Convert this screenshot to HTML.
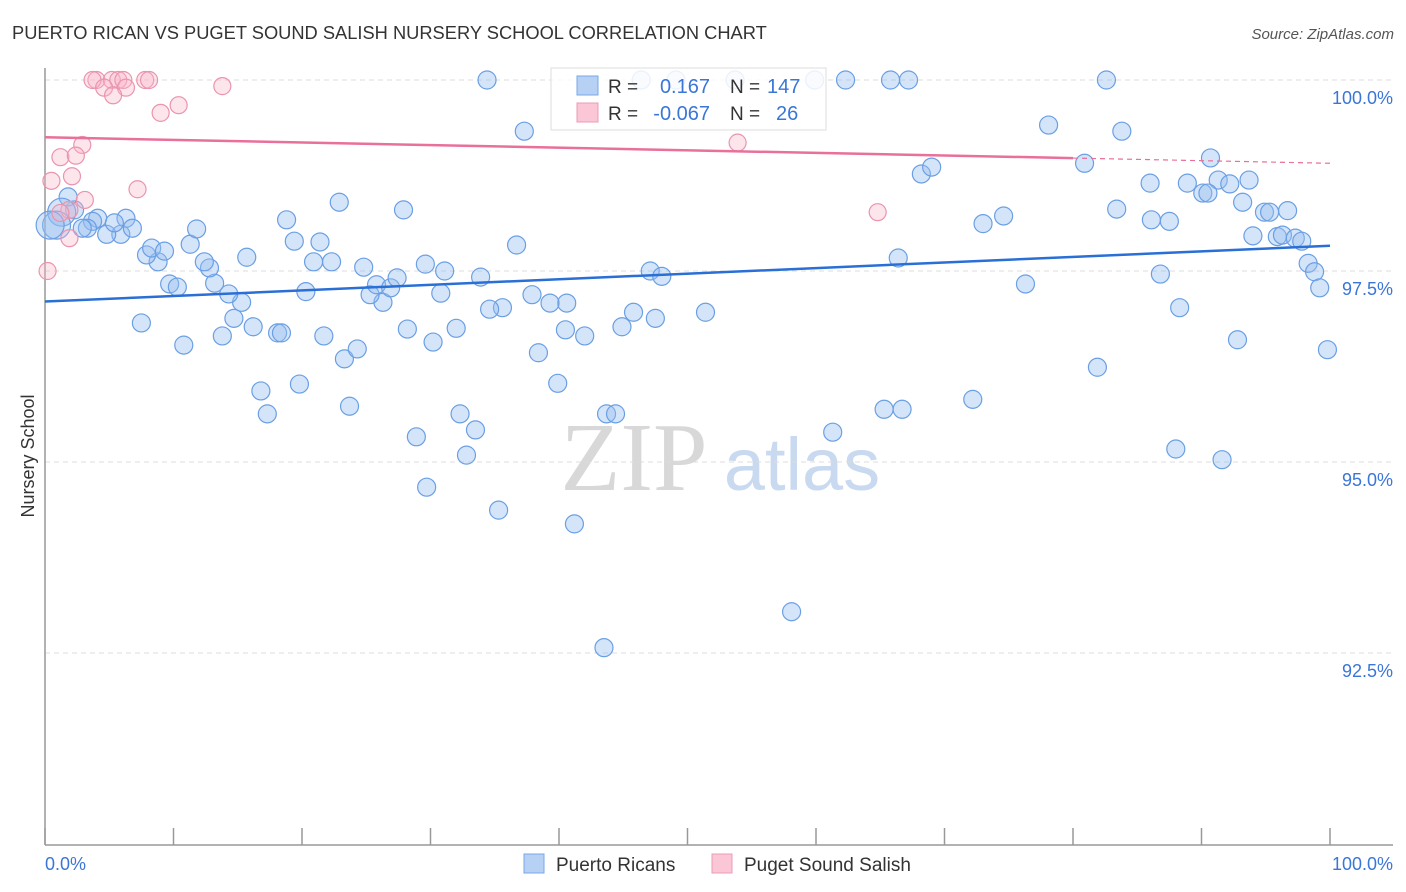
<!DOCTYPE html>
<html><head><meta charset="utf-8"><style>
body{margin:0;background:#fff;font-family:"Liberation Sans",sans-serif}
svg{display:block}
</style></head><body>
<svg id="chart" width="1406" height="892" viewBox="0 0 1406 892">
<text x="12" y="39" font-size="18.3" fill="#333">PUERTO RICAN VS PUGET SOUND SALISH NURSERY SCHOOL CORRELATION CHART</text>
<text x="1394" y="39" font-size="15" fill="#555" font-style="italic" text-anchor="end">Source: ZipAtlas.com</text>
<text x="0" y="0" transform="translate(34,456) rotate(-90)" font-size="18" fill="#333" text-anchor="middle">Nursery School</text>
<g>
<text x="634" y="490" font-family="Liberation Serif,serif" font-size="98" fill="#d8d8d8" text-anchor="middle">ZIP</text>
<text x="802" y="490" font-size="74" fill="#c8d9f0" text-anchor="middle">atlas</text>
</g>
<g id="grid"></g>
<g id="axes"></g>
<g id="pts"></g>
<g id="trends"></g>
<g>
<rect x="551" y="68" width="275" height="62" fill="#fff" fill-opacity="0.85" stroke="#ddd"/>
<rect x="577" y="76" width="21" height="19" fill="#b7d1f4" stroke="#7aa8e8"/>
<rect x="577" y="103" width="21" height="19" fill="#fbc6d5" stroke="#ec9bb4"/>
<text x="608" y="93" font-size="19" fill="#333">R = </text><text x="710" y="93" font-size="20" fill="#3a76d8" text-anchor="end">0.167</text>
<text x="730" y="93" font-size="19" fill="#333">N = </text><text x="767" y="93" font-size="20" fill="#3a76d8">147</text>
<text x="608" y="120" font-size="19" fill="#333">R = </text><text x="710" y="120" font-size="20" fill="#3a76d8" text-anchor="end">-0.067</text>
<text x="730" y="120" font-size="19" fill="#333">N = </text><text x="776" y="120" font-size="20" fill="#3a76d8">26</text>
</g>
<g>
<rect x="524" y="854" width="20" height="19" fill="#b7d1f4" stroke="#7aa8e8"/>
<text x="556" y="871" font-size="19" fill="#333">Puerto Ricans</text>
<rect x="712" y="854" width="20" height="19" fill="#fbc6d5" stroke="#ec9bb4"/>
<text x="744" y="871" font-size="19" fill="#333">Puget Sound Salish</text>
</g>
</svg>
<script>
const yTicks=[100,97.5,95,92.5];
const yTickLabels=["100.0%","97.5%","95.0%","92.5%"];
const xTickLabels=["0.0%","100.0%"];
const blueX=[34.4,37.3,46.4,49.1,53.7,59.9,62.3,65.8,67.2,82.6,78.1,83.8,80.9,90.7,68.2,69.0,86.0,88.9,91.3,93.7,90.1,90.5,92.2,93.2,94.9,95.3,96.7,83.4,86.1,87.5,74.6,73.0,94.0,95.9,96.3,97.3,97.8,98.3,98.8,99.2,99.8,66.4,86.8,76.3,88.3,92.8,81.9,72.2,65.3,66.7,88.0,91.6,61.3,58.1,43.5,41.2,35.3,29.7,32.8,33.5,32.3,28.9,23.7,17.3,16.8,19.8,23.3,24.3,39.9,38.4,43.7,44.4,42.0,40.5,44.9,45.8,47.5,51.4,47.1,48.0,40.6,39.3,37.9,35.6,34.6,32.0,30.2,28.2,26.3,25.3,25.8,26.9,27.4,30.8,31.1,29.6,33.9,24.8,22.3,20.9,20.3,21.7,18.1,18.4,16.2,15.3,14.7,14.3,13.8,13.2,12.8,12.4,10.8,7.5,9.7,10.3,8.8,7.9,8.3,9.3,11.3,11.8,15.7,19.4,21.4,18.8,22.9,27.9,36.7,6.3,5.9,4.8,4.1,3.7,3.3,2.9,2.3,1.8,1.3,0.9,0.4,6.8,5.4];
const blueY=[100,99.33,100,100,100,100,100,100,100,100,99.41,99.33,98.91,98.98,98.77,98.86,98.65,98.65,98.69,98.69,98.52,98.52,98.64,98.40,98.27,98.27,98.29,98.31,98.17,98.15,98.22,98.12,97.96,97.95,97.97,97.93,97.89,97.60,97.49,97.28,96.47,97.67,97.46,97.33,97.02,96.60,96.24,95.82,95.69,95.69,95.17,95.03,95.39,93.04,92.57,94.19,94.37,94.67,95.09,95.42,95.63,95.33,95.73,95.63,95.93,96.02,96.35,96.48,96.03,96.43,95.63,95.63,96.65,96.73,96.77,96.96,96.88,96.96,97.50,97.43,97.08,97.08,97.19,97.02,97.00,96.75,96.57,96.74,97.09,97.19,97.32,97.28,97.41,97.21,97.50,97.59,97.42,97.55,97.62,97.62,97.23,96.65,96.69,96.69,96.77,97.09,96.88,97.20,96.65,97.34,97.54,97.62,96.53,96.82,97.33,97.29,97.62,97.71,97.80,97.76,97.85,98.05,97.68,97.89,97.88,98.17,98.40,98.30,97.84,98.19,97.98,97.98,98.19,98.15,98.06,98.06,98.30,98.47,98.27,98.10,98.10,98.06,98.13];
const pinkX=[4.0,3.7,5.2,5.7,6.1,7.8,8.1,4.6,6.3,5.3,13.8,10.4,9.0,2.9,1.2,2.4,2.1,0.5,7.2,3.1,1.9,1.2,1.9,0.2,53.9,64.8];
const pinkY=[100,100,100,100,100,100,100,99.90,99.90,99.80,99.92,99.67,99.57,99.15,98.99,99.01,98.74,98.68,98.57,98.43,98.30,98.26,97.93,97.50,99.18,98.27];
const blueTrend=[97.1,97.83];
const pinkTrend=[99.25,98.91];
const pinkSolidEnd=80;

const NS="http://www.w3.org/2000/svg";
const X0=45,X1=1330,YT=80,YB=844;
function sx(v){return X0+(X1-X0)*v/100;}
function sy(v){return YT+(100-v)*(YB-YT)/10;}
function mk(tag,attrs,parent){const e=document.createElementNS(NS,tag);for(const k in attrs)e.setAttribute(k,attrs[k]);parent.appendChild(e);return e;}
const grid=document.getElementById('grid'),axes=document.getElementById('axes'),pts=document.getElementById('pts'),tr=document.getElementById('trends');
yTicks.forEach((t,i)=>{
  const l=mk('line',{x1:X0,x2:1393,y1:sy(t),y2:sy(t),stroke:'#ddd','stroke-dasharray':'5,4'},grid);
  
  
  const tx=mk('text',{x:1393,y:sy(t)+24,'font-size':18,fill:'#3a76d8','text-anchor':'end'},grid);
  tx.textContent=yTickLabels[i];
  
  
});
const ya=mk('line',{x1:X0,x2:X0,y1:68,y2:845,stroke:'#999','stroke-width':1.5},axes);


const xa=mk('line',{x1:X0,x2:1393,y1:845,y2:845,stroke:'#999','stroke-width':1.5},axes);


for(let i=0;i<=10;i++){
  const t=mk('line',{x1:sx(i*10),x2:sx(i*10),y1:828,y2:845,stroke:'#999','stroke-width':1.5},axes);
  
  
}
[[0,'start',X0],[1,'end',1393]].forEach(([i,a,x])=>{
  const t=mk('text',{x:x,y:870,'font-size':18,fill:'#3a76d8','text-anchor':a},axes);
  t.textContent=xTickLabels[i];
  
  
});
blueX.forEach((x,i)=>{
  const r=(i>=blueX.length-5&&x<1.5)?14:9;
  const c=mk('circle',{cx:sx(x),cy:sy(blueY[i]),r:r,fill:'rgba(150,190,240,0.4)',stroke:'#6a9fe4','stroke-width':1.2},pts);
  
  
});
pinkX.forEach((x,i)=>{
  const c=mk('circle',{cx:sx(x),cy:sy(pinkY[i]),r:8.5,fill:'rgba(248,180,200,0.35)',stroke:'#ea94ae','stroke-width':1.2},pts);
  
  
});
const bl=mk('line',{x1:sx(0),y1:sy(blueTrend[0]),x2:sx(100),y2:sy(blueTrend[1]),stroke:'#2a6fd6','stroke-width':2.5},tr);


const pm=pinkTrend[0]+(pinkTrend[1]-pinkTrend[0])*pinkSolidEnd/100;
const pl=mk('line',{x1:sx(0),y1:sy(pinkTrend[0]),x2:sx(pinkSolidEnd),y2:sy(pm),stroke:'#e8709a','stroke-width':2.5},tr);


const pd=mk('line',{x1:sx(pinkSolidEnd),y1:sy(pm),x2:sx(100),y2:sy(pinkTrend[1]),stroke:'#e8709a','stroke-width':1.2,'stroke-dasharray':'5,4'},tr);


</script>
</body></html>
